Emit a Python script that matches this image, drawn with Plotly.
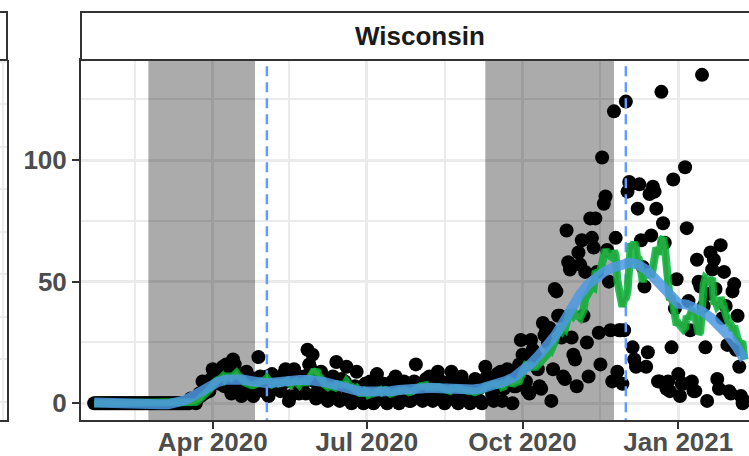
import numpy as np
import pandas as pd
import plotly.graph_objects as go

# daily values, one list per month
jan20 = [0, 0, 0, 0, 0, 0, 0, 0, 0, 0]
feb20 = [0, 0, 0, 0, 0, 0, 0, 0, 0, 0, 0, 0, 0, 0, 0, 0, 0, 0, 0, 0, 0, 0, 0, 0, 0, 0, 0, 0, 0]
mar20 = [0, 0, 0, 0, 0, 0, 0, 0, 0, 0, 0, 0, 0, 0, 0, 0, 0, 0,
         2, 1, 1, 0, 2, 4, 3, 9, 4, 6, 8, 5, 10]
apr20 = [14, 9, 12, 9, 8, 10, 15, 7, 16, 13, 8, 4, 18, 16, 12, 9, 5, 3, 4, 11,
         13, 11, 6, 4, 3, 6, 10, 19, 11, 7]
may20 = [5, 9, 11, 3, 8, 12, 10, 9, 7, 8, 5, 10, 12, 14, 9, 1, 3, 11, 14, 12,
         8, 4, 9, 7, 11, 4, 22, 16, 14, 20, 9]
jun20 = [2, 5, 10, 13, 7, 8, 3, 1, 9, 8, 11, 6, 17, 2, 1, 10, 8, 9, 15, 5,
         1, 0, 2, 7, 13, 4, 3, 1, 0, 8]
jul20 = [5, 4, 9, 3, 0, 1, 12, 6, 7, 3, 8, 1, 0, 4, 5, 9, 6, 11, 2, 0,
         3, 8, 9, 5, 6, 1, 1, 7, 9, 16, 8]
aug20 = [6, 3, 1, 8, 10, 9, 11, 5, 1, 2, 8, 13, 7, 9, 3, 0, 2, 6, 9, 13,
         7, 6, 1, 0, 5, 11, 8, 7, 4, 1, 0]
sep20 = [2, 8, 10, 9, 6, 1, 0, 7, 15, 11, 9, 10, 4, 1, 6, 12, 10, 13, 1, 6,
         11, 14, 12, 8, 0, 7, 7, 13, 16, 26]
oct20 = [20, 18, 9, 5, 4, 26, 22, 20, 19, 14, 7, 6, 33, 28, 30, 25, 31, 1, 14, 47,
         46, 36, 36, 27, 11, 10, 71, 58, 55, 27, 20]
nov20 = [18, 7, 62, 57, 67, 36, 54, 25, 11, 76, 68, 64, 76, 54, 29, 16, 101, 82, 85, 63,
         50, 30, 9, 120, 68, 13, 30, 30, 8, 30]
dec20 = [124, 87, 91, 90, 23, 18, 15, 80, 90, 67, 56, 48, 15, 21, 86, 69, 89, 87, 80, 9,
         9, 128, 74, 66, 6, 9, 5, 23, 92, 39, 51]
jan21 = [12, 3, 8, 8, 97, 72, 42, 30, 9, 5, 5, 59, 50, 48, 135, 40, 23, 1, 45, 62,
         55, 59, 47, 10, 6, 65, 35, 54, 40, 24, 5]
feb21 = [4, 46, 49, 22, 36, 15, 3, 0, 1]

first_day = "2020-01-22"
shade_start = ["2020-02-23", "2020-09-09"]
shade_end = ["2020-04-26", "2020-11-24"]
event_dates = ["2020-05-03", "2020-12-01"]
panel_title = "Wisconsin"

values = np.array(jan20 + feb20 + mar20 + apr20 + may20 + jun20 + jul20 + aug20
                  + sep20 + oct20 + nov20 + dec20 + jan21 + feb21, dtype=float)
dates = pd.date_range(first_day, periods=len(values), freq="D")
series = pd.Series(values, index=dates)

# trailing 7-day average
avg7 = series.rolling(7, min_periods=1).mean()


def loess(x, y, grid, span=0.2):
    n = len(x)
    k = int(np.ceil(span * n))
    fit = []
    for g in grid:
        d = np.abs(x - g)
        h = np.sort(d)[k - 1]
        w = np.clip(1 - (d / h) ** 3, 0, None) ** 3
        A = np.vstack([np.ones(n), x - g, (x - g) ** 2]).T
        sw = np.sqrt(w)
        coef = np.linalg.lstsq(A * sw[:, None], y * sw, rcond=None)[0]
        fit.append(coef[0])
    return np.array(fit)


xnum = np.arange(len(values), dtype=float)
grid = np.linspace(0, len(values) - 1, 80)
smooth = loess(xnum, values, grid, span=0.2)
grid_dates = dates[0] + pd.to_timedelta(grid, unit="D")

W, H = 749, 456
L_PX, T_PX, B_PX = 81, 60, 420
YRANGE = [-6.86, 141.1]
XRANGE = ["2020-01-14 05:00", "2021-02-11 18:00"]

tick_font = dict(family="Liberation Sans", size=26, color="#4D4D4D", weight="bold")
grid_col = "#EBEBEB"
border = "#333333"

fig = go.Figure()

# shaded windows as filled traces so they sit above the grid
for s, e in zip(shade_start, shade_end):
    fig.add_trace(go.Scatter(x=[s, e, e, s, s],
                             y=[YRANGE[0] - 10, YRANGE[0] - 10, YRANGE[1] + 10, YRANGE[1] + 10, YRANGE[0] - 10],
                             mode="lines", fill="toself", fillcolor="rgba(0,0,0,0.33)",
                             line=dict(width=0), showlegend=False, hoverinfo="skip"))

fig.add_trace(go.Scatter(x=dates, y=values, mode="markers",
                         marker=dict(color="black", size=14, line=dict(width=0)),
                         showlegend=False, hoverinfo="skip"))
for d in event_dates:
    fig.add_trace(go.Scatter(x=[d, d], y=[YRANGE[0] - 10, YRANGE[1] + 10], mode="lines",
                             line=dict(color="#619CFF", width=2.5, dash="10px,6px"),
                             showlegend=False, hoverinfo="skip"))
fig.add_trace(go.Scatter(x=dates, y=avg7, mode="lines",
                         line=dict(color="#F8766D", width=4),
                         showlegend=False, hoverinfo="skip"))
fig.add_trace(go.Scatter(x=dates, y=avg7, mode="lines",
                         line=dict(color="rgba(0,180,56,0.85)", width=8),
                         showlegend=False, hoverinfo="skip"))
fig.add_trace(go.Scatter(x=grid_dates, y=smooth, mode="lines",
                         line=dict(color="rgba(78,152,226,0.85)", width=10),
                         showlegend=False, hoverinfo="skip"))
# empty trace so the neighbouring (cut-off) panel gets drawn
fig.add_trace(go.Scatter(x=[], y=[], xaxis="x2", yaxis="y2", showlegend=False))

# strip boxes (main panel and the cut-off neighbour on the left)
ys1 = (B_PX - 12) / (B_PX - T_PX)
fig.add_shape(type="rect", xref="paper", yref="paper", x0=L_PX / W, x1=1.05, y0=1, y1=ys1,
              fillcolor="white", line=dict(color=border, width=2), layer="above")
fig.add_shape(type="rect", xref="paper", yref="paper", x0=-0.05, x1=7 / W, y0=1, y1=ys1,
              fillcolor="white", line=dict(color=border, width=2), layer="above")
fig.add_annotation(text=panel_title, xref="paper", yref="paper", x=419.5 / W,
                   y=(B_PX - 36) / (B_PX - T_PX), xanchor="center", yanchor="middle",
                   showarrow=False,
                   font=dict(family="Liberation Sans", size=26, color="#1A1A1A", weight="bold"))

fig.update_layout(
    width=W, height=H,
    margin=dict(l=0, r=0, t=T_PX, b=H - B_PX, autoexpand=False),
    paper_bgcolor="white", plot_bgcolor="white",
    xaxis=dict(domain=[L_PX / W, 1], type="date", range=XRANGE,
               tick0="2020-01-01", dtick="M3", tickformat="%b %Y",
               showgrid=True, gridcolor=grid_col, gridwidth=3,
               minor=dict(tickvals=["2020-02-15", "2020-05-16", "2020-08-16", "2020-11-16"],
                          showgrid=True, gridcolor=grid_col, gridwidth=1.5, ticks=""),
               showline=True, linecolor=border, linewidth=2, mirror=True,
               ticks="outside", ticklen=7, tickwidth=2, tickcolor=border,
               ticklabelstandoff=-9, tickfont=tick_font, zeroline=False),
    yaxis=dict(range=YRANGE, tick0=0, dtick=50, anchor="x",
               showgrid=True, gridcolor=grid_col, gridwidth=3,
               minor=dict(tick0=0, dtick=25, showgrid=True, gridcolor=grid_col,
                          gridwidth=1.5, ticks=""),
               showline=True, linecolor=border, linewidth=2,
               ticks="outside", ticklen=7, tickwidth=2, tickcolor=border,
               tickfont=tick_font, zeroline=False),
    # neighbouring panel, only its right edge is in view
    xaxis2=dict(domain=[0, 7 / W], range=[0, 7.5], anchor="y2", showgrid=True,
                tickvals=[3.3], gridcolor=grid_col, gridwidth=1.5,
                showticklabels=False, ticks="", showline=True, linecolor=border,
                linewidth=2, zeroline=False),
    yaxis2=dict(domain=[0, 1], range=[-0.43, 8.04], anchor="x2", side="right",
                dtick=1, showgrid=True, gridcolor=grid_col, gridwidth=1.5,
                showticklabels=False, ticks="", showline=True, linecolor=border,
                linewidth=2, zeroline=False),
)

fig.write_html("out.html", config={"displayModeBar": False},
               post_script="document.body.style.margin='0px';")
